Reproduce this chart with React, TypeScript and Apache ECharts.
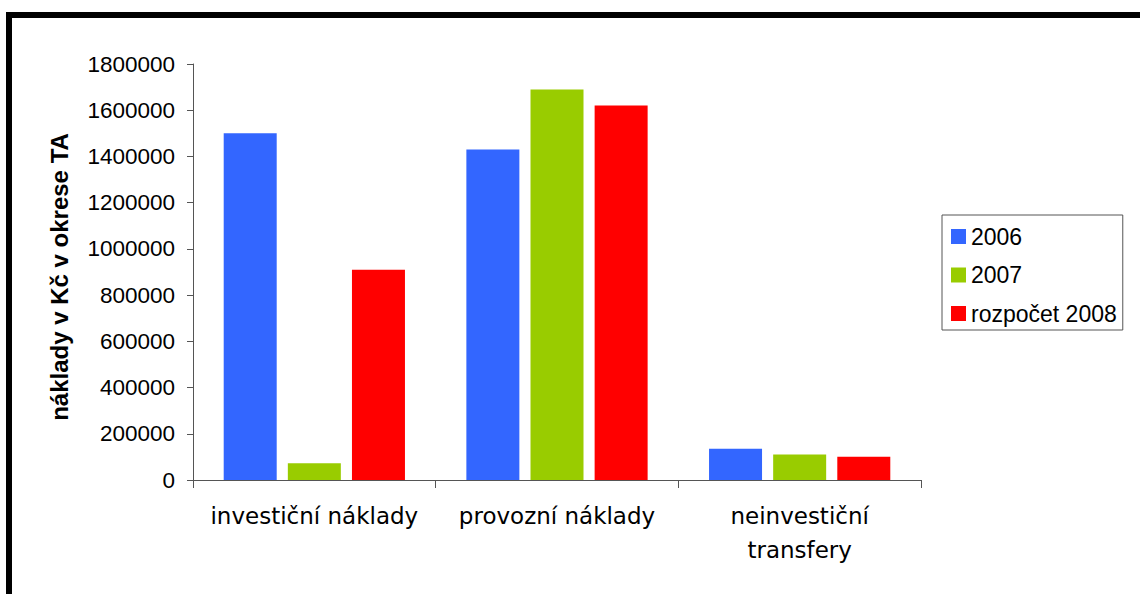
import React, { useEffect, useRef } from "react";
import * as echarts from "echarts";

const categories = ["investiční náklady", "provozní náklady", "neinvestiční\ntransfery"];
const series2006 = [1500000, 1430000, 135000];
const series2007 = [72000, 1690000, 110000];
const series2008 = [910000, 1620000, 101000];
const seriesNames = ["2006", "2007", "rozpočet 2008"];
const yAxisTitle = "náklady v Kč v okrese TA";

const ARIAL = "'Liberation Sans', Arial, sans-serif";
const VERDANA = "'DejaVu Sans', Verdana, sans-serif";
const AXIS_COLOR = "#555555";

export default function App() {
  const ref = useRef<HTMLDivElement>(null);

  useEffect(() => {
    if (!ref.current) return;
    const chart = echarts.init(ref.current, undefined, { renderer: "svg" });
    const barCommon = {
      type: "bar" as const,
      barWidth: 53,
      barGap: "21%",
    };
    chart.setOption({
      animation: false,
      backgroundColor: "#ffffff",
      graphic: [
        {
          type: "rect",
          shape: { x: 9, y: 15, width: 1200, height: 700 },
          style: { fill: "none", stroke: "#000000", lineWidth: 6 },
          silent: true,
          z: -10,
        },
      ],
      grid: { left: 193, right: 219, top: 64, bottom: 114, containLabel: false },
      legend: {
        orient: "vertical",
        left: 942,
        top: 215,
        itemWidth: 15,
        itemHeight: 15,
        itemGap: 15.5,
        padding: [10, 6, 5, 9],
        borderColor: AXIS_COLOR,
        borderWidth: 1,
        icon: "rect",
        textStyle: { fontFamily: ARIAL, fontSize: 23, color: "#000", lineHeight: 23 },
        data: seriesNames,
      },
      xAxis: {
        type: "category",
        data: categories,
        axisLine: { lineStyle: { color: AXIS_COLOR, width: 1 } },
        axisTick: { show: true, length: 8, lineStyle: { color: AXIS_COLOR } },
        axisLabel: {
          fontFamily: VERDANA,
          fontSize: 23,
          color: "#000",
          lineHeight: 34,
          margin: 19,
          interval: 0,
        },
        splitLine: { show: false },
      },
      yAxis: {
        type: "value",
        min: 0,
        max: 1800000,
        interval: 200000,
        name: yAxisTitle,
        nameLocation: "middle",
        nameGap: 122,
        nameTextStyle: {
          fontFamily: ARIAL,
          fontSize: 24,
          fontWeight: "bold",
          color: "#000",
          padding: [0, 10, 0, 0],
        },
        axisLine: { show: true, lineStyle: { color: AXIS_COLOR, width: 1 } },
        axisTick: { show: true, length: 6, lineStyle: { color: AXIS_COLOR } },
        axisLabel: {
          fontFamily: ARIAL,
          fontSize: 22.5,
          color: "#000",
          margin: 18,
          formatter: (v: number) => String(v),
        },
        splitLine: { show: false },
      },
      series: [
        { ...barCommon, name: seriesNames[0], data: series2006, itemStyle: { color: "#3366FF" } },
        { ...barCommon, name: seriesNames[1], data: series2007, itemStyle: { color: "#99CC00" } },
        { ...barCommon, name: seriesNames[2], data: series2008, itemStyle: { color: "#FF0000" } },
      ],
    });
    return () => chart.dispose();
  }, []);

  return (
    <div
      ref={ref}
      style={{ position: "fixed", left: 0, top: 0, width: 1140, height: 594, background: "#fff" }}
    />
  );
}
